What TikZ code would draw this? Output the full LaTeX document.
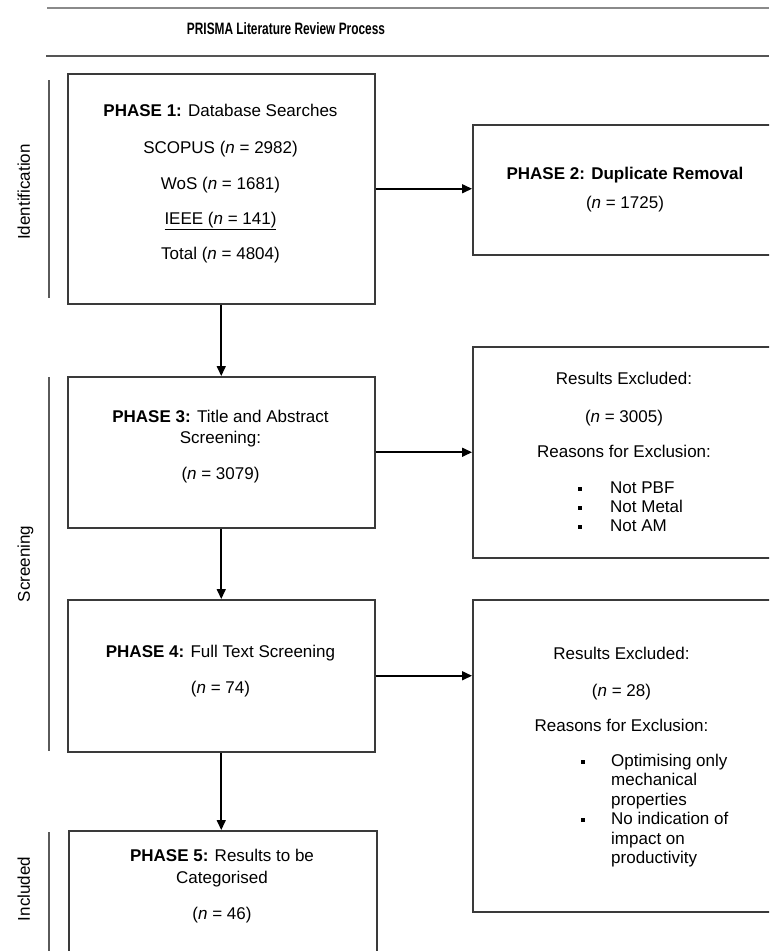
\documentclass[tikz,border=0pt]{standalone}
\usepackage{fontspec}
\setmainfont{Liberation Sans}
\newfontfamily\titlefont[FakeStretch=0.72]{Liberation Sans}
\usetikzlibrary{arrows.meta}
\definecolor{boxline}{HTML}{3A3A3A}
\definecolor{barline}{HTML}{5A5A5A}
\definecolor{ruleA}{HTML}{8A8A8A}
\definecolor{ruleB}{HTML}{555555}
\begin{document}
\begin{tikzpicture}[x=1pt,y=-1pt,
  box/.style={draw=boxline,line width=1.5pt,fill=none,inner sep=0pt,anchor=north west},
  txt/.style={inner sep=0pt,anchor=base,font=\fontsize{17}{19.5}\selectfont},
  ltxt/.style={inner sep=0pt,anchor=base west,font=\fontsize{17}{19.5}\selectfont},
  side/.style={inner sep=0pt,anchor=base,rotate=90,font=\fontsize{17}{19.5}\selectfont},
  bar/.style={draw=barline,line width=2pt},
  conn/.style={draw=black,line width=1.6pt,-{Triangle[length=10pt,width=9pt]}},
  bul/.style={inner sep=0pt,anchor=base,font=\fontsize{17}{19.5}\selectfont}]
\useasboundingbox (0,0) rectangle (769,951);
\clip (0,0) rectangle (769,951);
\fill[white] (0,0) rectangle (769,951);

% header rules and title
\draw[draw=ruleA,line width=1.5pt] (47,8) -- (769,8);
\draw[draw=ruleB,line width=2.2pt] (46,56) -- (769,56);
\node[inner sep=0pt,anchor=base,font=\titlefont\fontsize{16.5}{19}\selectfont\bfseries] (title) at (286,34) {PRISMA Literature Review Process};

% side bars and labels
\draw[bar] (49,80) -- (49,298);
\draw[bar] (49,377) -- (49,751);
\draw[bar] (49,832) -- (49,951);
\node[side] (lid) at (30,192) {Identification};
\node[side] (lsc) at (30,564) {Screening};
\node[side] (lin) at (30,889) {Included};

% boxes
\node[box,minimum width=307pt,minimum height=230pt] (b1) at (67,73) {};
\node[box,minimum width=320pt,minimum height=130pt] (b2) at (472,124) {};
\node[box,minimum width=307pt,minimum height=151pt] (b3) at (67,376) {};
\node[box,minimum width=320pt,minimum height=211pt] (e1) at (472,346) {};
\node[box,minimum width=307pt,minimum height=152pt] (b4) at (67,599) {};
\node[box,minimum width=320pt,minimum height=312pt] (e2) at (472,599) {};
\node[box,minimum width=308pt,minimum height=140pt] (b5) at (68,830) {};

% connectors
\draw[conn] (b1.east) -- (b1.east -| b2.west);
\draw[conn] (b1.south) -- (b3.north);
\draw[conn] (b3.east) -- (b3.east -| e1.west);
\draw[conn] (b3.south) -- (b4.north);
\draw[conn] (b4.east) -- (b4.east -| e2.west);
\draw[conn] (b4.south) -- (b4.south |- b5.north);

% box 1 text
\node[txt] (t1a) at (220.5,116) {\textbf{PHASE 1:} Database Searches};
\node[txt] (t1b) at (220.5,153) {SCOPUS (\textit{n} = 2982)};
\node[txt] (t1c) at (220.5,189) {WoS (\textit{n} = 1681)};
\node[txt] (t1d) at (220.5,224) {\underline{IEEE (\textit{n} = 141)}};
\node[txt] (t1e) at (220.5,259) {Total (\textit{n} = 4804)};

% box 2 text
\node[txt] (t2a) at (625,179) {\textbf{PHASE 2: Duplicate Removal}};
\node[txt] (t2b) at (625,208) {(\textit{n} = 1725)};

% box 3 text
\node[txt] (t3a) at (220.5,422) {\textbf{PHASE 3:} Title and Abstract};
\node[txt] (t3b) at (220.5,443) {Screening:};
\node[txt] (t3c) at (220.5,479) {(\textit{n} = 3079)};

% excluded 1 text
\node[txt] (x1a) at (624,384) {Results Excluded:};
\node[txt] (x1b) at (624,422) {(\textit{n} = 3005)};
\node[txt] (x1c) at (624,457) {Reasons for Exclusion:};
\node[bul] (x1d) at (580,493) {\rule[2.5pt]{4pt}{4pt}};
\node[bul] (x1e) at (580,512) {\rule[2.5pt]{4pt}{4pt}};
\node[bul] (x1f) at (580,531) {\rule[2.5pt]{4pt}{4pt}};
\node[ltxt] (x1g) at (610,493) {Not PBF};
\node[ltxt] (x1h) at (610,512) {Not Metal};
\node[ltxt] (x1i) at (610,531) {Not AM};

% box 4 text
\node[txt] (t4a) at (220.5,657) {\textbf{PHASE 4:} Full Text Screening};
\node[txt] (t4b) at (220.5,693) {(\textit{n} = 74)};

% excluded 2 text
\node[txt] (x2a) at (621.5,659) {Results Excluded:};
\node[txt] (x2b) at (621.5,696) {(\textit{n} = 28)};
\node[txt] (x2c) at (621.5,731) {Reasons for Exclusion:};
\node[bul] (x2d) at (583,766) {\rule[2.5pt]{4pt}{4pt}};
\node[bul] (x2e) at (583,824.5) {\rule[2.5pt]{4pt}{4pt}};
\node[ltxt] (x2f) at (611,766) {Optimising only};
\node[ltxt] (x2g) at (611,785.5) {mechanical};
\node[ltxt] (x2h) at (611,805) {properties};
\node[ltxt] (x2i) at (611,824.5) {No indication of};
\node[ltxt] (x2j) at (611,844) {impact on};
\node[ltxt] (x2k) at (611,863.5) {productivity};

% box 5 text
\node[txt] (t5a) at (222,861) {\textbf{PHASE 5:} Results to be};
\node[txt] (t5b) at (222,883) {Categorised};
\node[txt] (t5c) at (222,919) {(\textit{n} = 46)};
\end{tikzpicture}
\end{document}
